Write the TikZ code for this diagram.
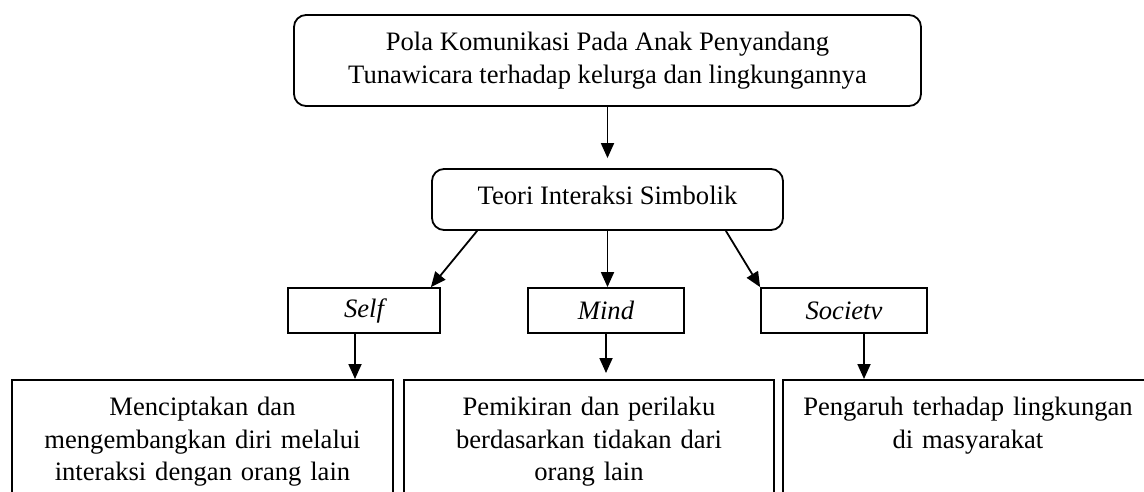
\documentclass[tikz,border=0pt]{standalone}
\usepackage{fontspec}
\setmainfont{Liberation Serif}
\usetikzlibrary{arrows.meta}
\begin{document}
\begin{tikzpicture}[x=1pt,y=-1pt]
\def\gap{10pt}
\tikzset{base/.style={draw,line width=1.8pt,inner sep=7pt,font=\fontsize{26.6}{32.5}\selectfont},
head/.style={base,rounded corners=12pt,align=center},
sub/.style={base,minimum height=45pt,font=\fontsize{26.6}{32.5}\selectfont\itshape},
res/.style={base,anchor=north,align=center,text width=356pt,text height=29pt,text depth=150pt},
link/.style={->,>={Triangle[length=15pt,width=13pt]},line width=1.8pt}}
\useasboundingbox (0,0) rectangle (1144,492);
\clip (0,0) rectangle (1144,492);
\node[head,minimum width=627pt,minimum height=91pt] at (607.5,60.5) (POLA) {Pola Komunikasi Pada Anak Penyandang\\ Tunawicara terhadap kelurga dan lingkungannya};
\node[head,minimum width=351pt,minimum height=61pt,text depth=8pt] at (607.5,199.5) (TEORI) {Teori Interaksi Simbolik};
\node[sub,minimum width=152pt] at (364,310.5) (SELF) {Self};
\node[sub,minimum width=156pt] at (606,310.5) (MIND) {Mind};
\node[sub,minimum width=166pt] at (844,310.5) (SOC) {Societv};
\node[res,text width=367pt] at (202.5,379) (RSELF) {Menciptakan dan\\ mengembangkan diri melalui\\ interaksi dengan orang lain};
\node[res] at (589,379) (RMIND) {Pemikiran dan perilaku\\ berdasarkan tidakan dari\\ orang lain};
\node[res] at (968,379) (RSOC) {Pengaruh terhadap lingkungan\\ di masyarakat};
\draw[link] (POLA.south) -- ([yshift=\gap]TEORI.north);
\draw[link] ([xshift=46pt]TEORI.south west) -- ([xshift=-10pt]SELF.north east);
\draw[link] (TEORI.south) -- (TEORI.south |- MIND.north);
\draw[link] ([xshift=-58pt]TEORI.south east) -- (SOC.north west);
\draw[link] ([xshift=-9pt]SELF.south) -- ([xshift=-9pt]SELF.south |- RSELF.north);
\draw[link] (MIND.south) -- ([yshift=6pt]MIND.south |- RMIND.north);
\draw[link] ([xshift=20pt]SOC.south) -- ([xshift=20pt]SOC.south |- RSOC.north);
\end{tikzpicture}
\end{document}
